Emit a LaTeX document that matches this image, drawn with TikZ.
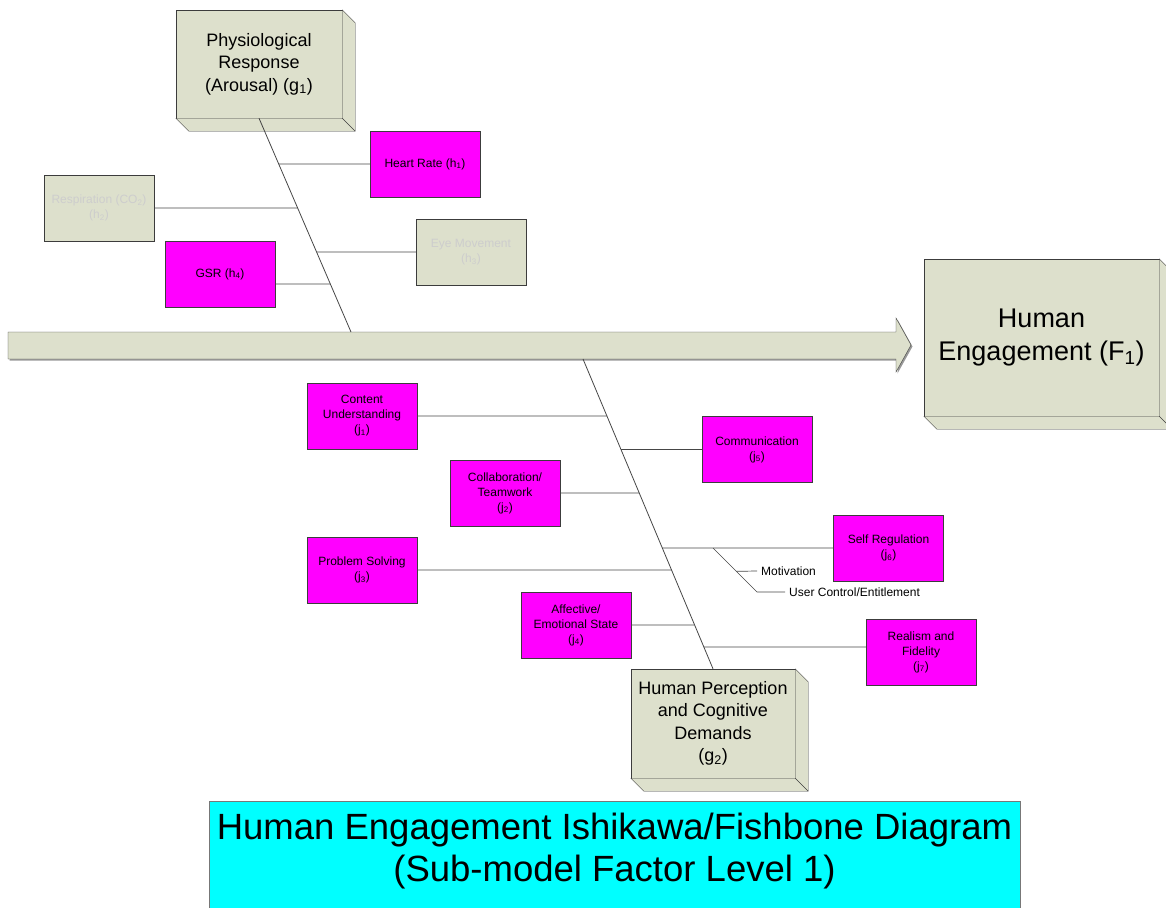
\documentclass[tikz,border=0pt]{standalone}
\usepackage{fontspec}
\setmainfont{Liberation Sans}
\usetikzlibrary{calc}

\definecolor{boxgrey}{RGB}{221,224,204}
\definecolor{edgegrey}{RGB}{60,60,60}
\definecolor{dimtext}{RGB}{205,205,205}
\definecolor{bonegrey}{RGB}{70,70,70}
\definecolor{causepink}{RGB}{255,0,255}
\definecolor{titlecyan}{RGB}{0,255,255}

% side and bottom faces of a raised box
\newcommand\extrude[1]{%
  \filldraw[draw=edgegrey,fill=boxgrey,line join=round]
    (#1.north east) -- ++(13,13) -- ($(#1.south east)+(13,13)$)
    -- ($(#1.south west)+(13,13)$) -- (#1.south west) -- (#1.south east) -- cycle;
  \draw[edgegrey] (#1.south east) -- ++(13,13);}

\begin{document}
\begin{tikzpicture}[x=1pt,y=-1pt,inner sep=0pt]
  % Styles
  \tikzset{cause/.style={draw=edgegrey,fill=causepink,minimum width=110pt,minimum height=66pt,
                         align=center,font=\fontsize{12}{15}\selectfont},
           dimcause/.style={cause,fill=boxgrey,text=dimtext},
           factor/.style={draw=edgegrey,fill=boxgrey,align=center},
           bone/.style={draw=bonegrey,line width=0.8pt},
           subbone/.style={draw=bonegrey,line width=0.7pt},
           subtext/.style={anchor=west,inner xsep=4pt,font=\fontsize{12}{15}\selectfont},
           heading/.style={align=center,font=\fontsize{36.5}{42}\selectfont}}
  \useasboundingbox (0,0) rectangle (1166,907);

  % main arrow
  \fill[black!40,shift={(1.5,1.5)}] (8,332) -- (896,332) -- (896,318) -- (911,345)
    -- (896,372) -- (896,359) -- (8,359) -- cycle;
  \filldraw[fill=boxgrey,draw=edgegrey] (8,332) -- (896,332) -- (896,318) -- (911,345)
    -- (896,372) -- (896,359) -- (8,359) -- cycle;

  % factor boxes
  \node[factor,minimum width=166pt,minimum height=108pt,font=\fontsize{18}{22.5}\selectfont]
    (g1) at (259,64) {Physiological\\Response\\(Arousal) (g\textsubscript{1})};
  \extrude{g1}
  \node[factor,minimum width=235pt,minimum height=157pt,font=\fontsize{27}{33}\selectfont]
    (f1) at (1041.5,337.5) {Human\\Engagement (F\textsubscript{1})};
  \extrude{f1}
  \node[factor,minimum width=164pt,minimum height=109pt,font=\fontsize{18}{22.5}\selectfont]
    (g2) at (713,723.5) {Human Perception\\and Cognitive\\Demands\\(g\textsubscript{2})};
  \extrude{g2}

  % spines
  \coordinate (sp1) at (g1.south);
  \coordinate (sp2) at (351,332);
  \coordinate (sp3) at (583,359);
  \coordinate (sp4) at (g2.north);
  \draw[bone] (sp1) -- (sp2);
  \draw[bone] (sp3) -- (sp4);

  % causes of g1
  \node[cause] (h1) at (425,164) {Heart Rate (h\textsubscript{1})};
  \node[dimcause] (h2) at (99,208) {Respiration (CO\textsubscript{2})\\(h\textsubscript{2})};
  \node[dimcause] (h3) at (471,252) {Eye Movement\\(h\textsubscript{3})};
  \node[cause] (h4) at (220,274) {GSR (h\textsubscript{4})};

  % causes of g2
  \node[cause] (j1) at (362,416) {Content\\Understanding\\(j\textsubscript{1})};
  \node[cause] (j2) at (505,493) {Collaboration/\\Teamwork\\(j\textsubscript{2})};
  \node[cause] (j3) at (362,570) {Problem Solving\\(j\textsubscript{3})};
  \node[cause] (j4) at (576,625) {Affective/\\Emotional State\\(j\textsubscript{4})};
  \node[cause] (j5) at (757,449.5) {Communication\\(j\textsubscript{5})};
  \node[cause] (j6) at (888.5,548) {Self Regulation\\(j\textsubscript{6})};
  \node[cause] (j7) at (921,652) {Realism and\\Fidelity\\(j\textsubscript{7})};

  % branch lines to the spines
  \foreach \n/\s in {h1/west,h2/east,h3/west}
    \draw[bone] (\n.\s) -- (intersection of \n.west--\n.east and sp1--sp2);
  \coordinate (h4a) at ([yshift=-10pt]h4.east);
  \coordinate (h4c) at ([yshift=-10pt]h4.west);
  \draw[bone] (h4a) -- (intersection of h4a--h4c and sp1--sp2);

  \foreach \n/\s in {j1/east,j2/east,j3/east,j4/east,j5/west,j6/west}
    \draw[bone] (\n.\s) -- (intersection of \n.west--\n.east and sp3--sp4);
  \coordinate (j7a) at ([yshift=5pt]j7.west);
  \coordinate (j7c) at ([yshift=5pt]j7.east);
  \draw[bone] (j7a) -- (intersection of j7a--j7c and sp3--sp4);

  % sub-causes of self regulation
  \coordinate (sr1) at (713,548);
  \coordinate (sr2) at (757,592);
  \coordinate (sr3) at ($(sr1)!0.53!(sr2)$);
  \node[subtext] (mot) at (757,571) {Motivation};
  \node[subtext] (ucon) at (785,592) {User Control/Entitlement};
  \draw[subbone] (sr1) -- (sr2) -- (ucon.west);
  \draw[subbone] (sr3) -- (mot.west);

  % title
  \fill[titlecyan] (209,801) rectangle (1020,912);
  \draw[edgegrey!70] (209,912) |- (1020,801) -- (1020,912);
  \node[heading] (ttl) at (614.5,851)
    {Human Engagement Ishikawa/Fishbone Diagram\\(Sub-model Factor Level 1)};
\end{tikzpicture}
\end{document}
